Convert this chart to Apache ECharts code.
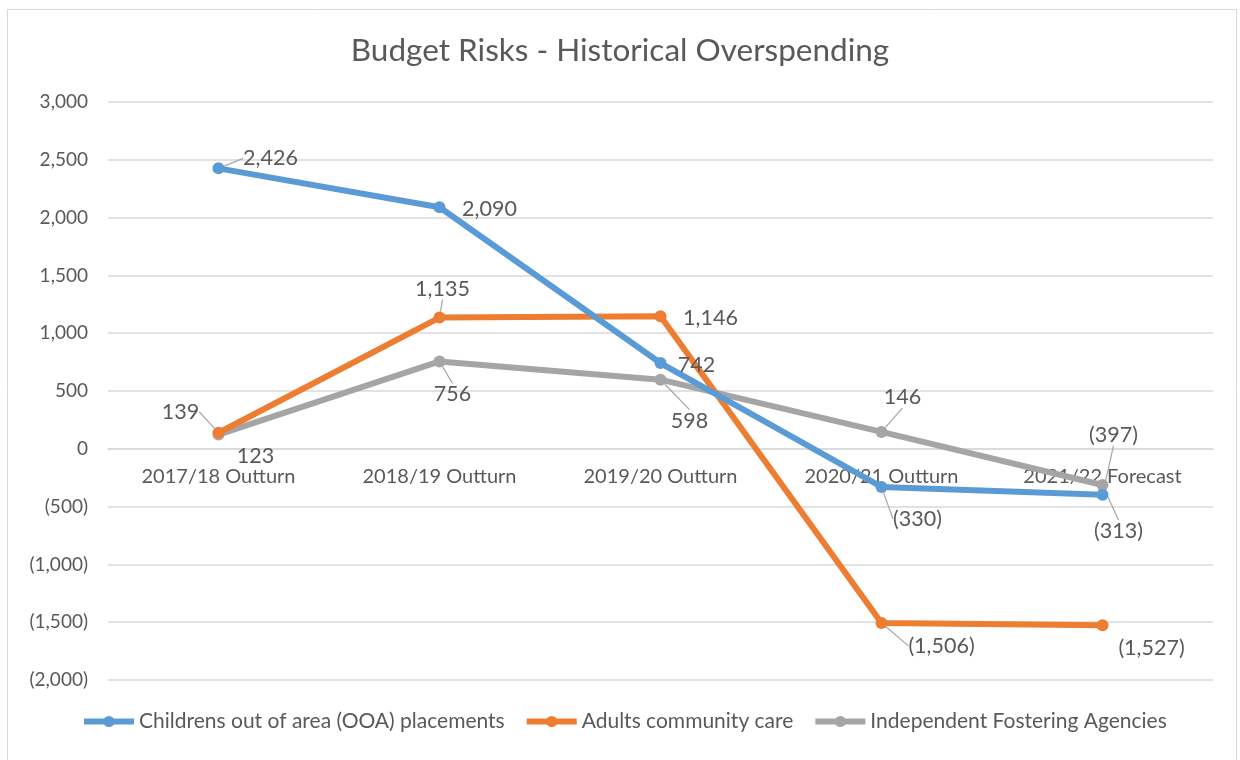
<!DOCTYPE html>
<html>
<head>
<meta charset="utf-8">
<script src="https://cdn.jsdelivr.net/npm/echarts@6/dist/echarts.min.js"></script>
<style>html,body{margin:0;padding:0;background:#fff;}#c{width:1240px;height:760px;}</style>
</head>
<body>
<div id="c"></div>
<script>
const categories = ['2017/18 Outturn', '2018/19 Outturn', '2019/20 Outturn', '2020/21 Outturn', '2021/22 Forecast'];
const seriesNames = ['Childrens out of area (OOA) placements', 'Adults community care', 'Independent Fostering Agencies'];
const childrensOOA = [2426, 2090, 742, -330, -397];
const adultsCare = [139, 1135, 1146, -1506, -1527];
const fosteringAgencies = [123, 756, 598, 146, -313];
const yTicks = { min: -2000, max: 3000, interval: 500 };

// label placement (styling only)
const labelOffsets = [
  [[52,-10],[50,2],[36,2],[36,32],[11,-60]],
  [[-38,-21],[3,-29],[50,2],[60,23],[49,23]],
  [[37,21],[13,33],[29,41],[21,-35],[16,46]]
];
const leaderShown = [
  [true,false,false,true,true],
  [true,true,false,true,false],
  [false,true,true,true,true]
];
const colors = ['#5B9BD5', '#ED7D31', '#A5A5A5'];
const FONT = 'Lato';
const TXT = '#595959';

function fmt(v) {
  const a = Math.abs(v).toLocaleString('en-US');
  return v < 0 ? '(' + a + ')' : a;
}

function mkSeries(idx, values) {
  return {
    name: seriesNames[idx],
    type: 'line',
    data: values.map((v, i) => ({
      value: v,
      labelLine: { show: leaderShown[idx][i] }
    })),
    symbol: 'circle',
    symbolSize: 12,
    lineStyle: { width: 6, color: colors[idx] },
    itemStyle: { color: colors[idx] },
    z: 3 + (2 - idx),
    label: {
      show: true,
      position: 'inside',
      formatter: p => fmt(p.value),
      color: TXT,
      fontFamily: FONT,
      fontSize: 21.5
    },
    labelLine: { show: true, lineStyle: { color: '#A6A6A6', width: 1.2 } },
    labelLayout: p => ({ dx: labelOffsets[idx][p.dataIndex][0], dy: labelOffsets[idx][p.dataIndex][1] }),
    emphasis: { disabled: true },
    animation: false
  };
}

const GRID = { left: 108, right: 27, top: 102, bottom: 80 };
const plotH = 760 - GRID.top - GRID.bottom;
const zeroFromBottom = plotH * (0 - yTicks.min) / (yTicks.max - yTicks.min);

const chart = echarts.init(document.getElementById('c'), null, { renderer: 'canvas' });
chart.setOption({
  animation: false,
  backgroundColor: '#fff',
  color: colors,
  textStyle: { fontFamily: FONT },
  graphic: [{
    type: 'rect',
    shape: { x: 7.5, y: 9.5, width: 1229, height: 770 },
    style: { fill: 'none', stroke: '#D9D9D9', lineWidth: 1 },
    silent: true
  }],
  title: {
    text: 'Budget Risks - Historical Overspending',
    left: 'center',
    top: 30,
    textStyle: { fontFamily: FONT, fontSize: 31.5, fontWeight: 'normal', color: TXT }
  },
  grid: Object.assign({ containLabel: false }, GRID),
  legend: {
    bottom: 23,
    left: 76,
    itemWidth: 50,
    itemHeight: 14,
    itemGap: 19,
    lineStyle: { width: 6 },
    textStyle: { fontFamily: FONT, fontSize: 21, color: TXT },
    data: seriesNames
  },
  xAxis: {
    type: 'category',
    data: categories,
    boundaryGap: true,
    offset: -zeroFromBottom,
    axisLine: { onZero: false, lineStyle: { color: '#D9D9D9', width: 1.5 } },
    axisTick: { show: false },
    axisLabel: { color: TXT, fontFamily: FONT, fontSize: 20, margin: 18 },
    z: 2
  },
  yAxis: {
    type: 'value',
    min: yTicks.min,
    max: yTicks.max,
    interval: yTicks.interval,
    axisLine: { show: false },
    axisTick: { show: false },
    splitLine: { lineStyle: { color: '#D9D9D9', width: 1.5 } },
    axisLabel: { color: TXT, fontFamily: FONT, fontSize: 19, margin: 20, formatter: v => fmt(v) }
  },
  series: [
    mkSeries(0, childrensOOA),
    mkSeries(1, adultsCare),
    mkSeries(2, fosteringAgencies)
  ]
});
</script>
</body>
</html>
